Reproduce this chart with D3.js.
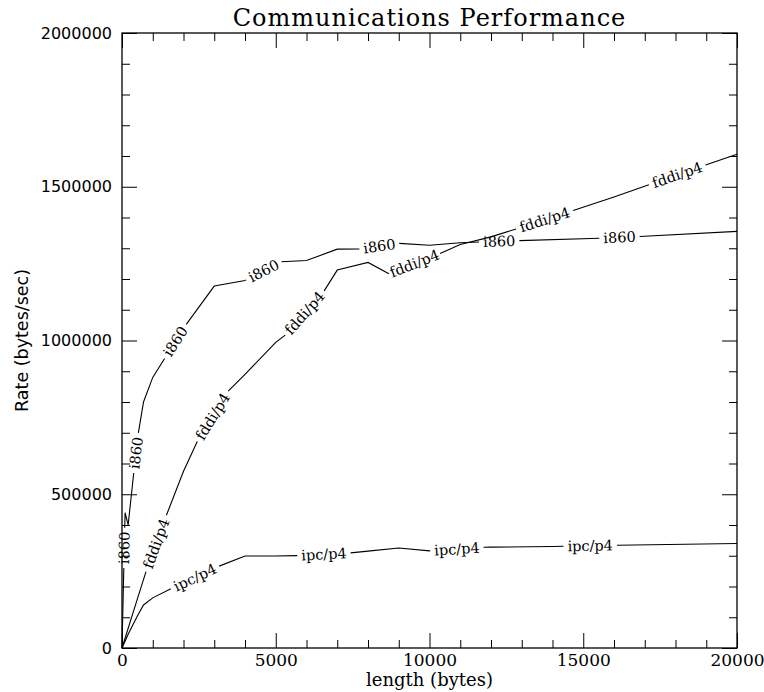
<!DOCTYPE html>
<html><head><meta charset="utf-8">
<script src="https://cdn.jsdelivr.net/npm/d3@7"></script>
<style>
body{margin:0;background:#fff}
svg{display:block}
.lbl{font-family:"DejaVu Serif",serif;font-size:14.5px;fill:#000}
</style>
</head><body>
<svg id="c" width="764" height="692"></svg>
<script>
// ---------- data ----------
const titleText = "Communications Performance";
const xLabelText = "length (bytes)";
const yLabelText = "Rate (bytes/sec)";
const xTickValues = [0, 5000, 10000, 15000, 20000];
const yTickValues = [0, 500000, 1000000, 1500000, 2000000];
const seriesNames = ["i860", "fddi/p4", "ipc/p4"];

const i860Length = [0, 100, 200, 500, 700, 1000, 2000, 3000, 4000, 5000, 6000, 7000, 8000, 9000, 10000, 11000, 12000, 16000, 20000];
const i860Rate   = [0, 440000, 400000, 680000, 800000, 880000, 1040000, 1177000, 1195000, 1255000, 1260000, 1297000, 1298000, 1316000, 1310000, 1318000, 1322000, 1334000, 1355000];

const fddiLength = [0, 500, 1000, 2000, 3000, 4000, 5000, 6000, 7000, 8000, 9000, 10000, 11000, 12000, 14000, 16000, 18000, 20000];
const fddiRate   = [0, 160000, 317000, 575000, 790000, 890000, 994000, 1070000, 1229000, 1254000, 1200000, 1268000, 1312000, 1337000, 1400000, 1467000, 1537000, 1606000];

const ipcLength = [0, 100, 200, 500, 700, 1000, 2000, 3000, 4000, 5000, 6000, 7000, 8000, 9000, 10000, 11000, 12000, 14000, 16000, 20000];
const ipcRate   = [0, 22000, 45000, 104000, 140000, 163000, 213000, 260000, 299000, 299000, 301000, 305000, 315000, 325000, 316000, 326000, 328000, 330000, 334000, 340000];

// ---------- chart ----------
const svg = d3.select("#c");
const L = 122, R = 737, T = 33, B = 648;
const x = d3.scaleLinear().domain([0, 20000]).range([L, R]);
const y = d3.scaleLinear().domain([0, 2000000]).range([B, T]);

const xMinor = d3.range(0, 20001, 1000).filter(v => v % 5000 !== 0);
const yMinor = d3.range(0, 2000001, 100000).filter(v => v % 500000 !== 0);
const MAJ = 15, MIN = 8;

function tickGroup(axis, values, size, tr) {
  const g = svg.append("g").attr("transform", tr)
    .call(axis.tickValues(values).tickSizeInner(size).tickSizeOuter(0).tickFormat(""));
  g.select(".domain").remove();
  g.selectAll("line").attr("stroke", "#000").attr("stroke-width", 1);
}
// inward ticks on all four sides
tickGroup(d3.axisBottom(x), xTickValues, -MAJ, `translate(0,${B})`);
tickGroup(d3.axisBottom(x), xMinor, -MIN, `translate(0,${B})`);
tickGroup(d3.axisTop(x), xTickValues, -MAJ, `translate(0,${T})`);
tickGroup(d3.axisTop(x), xMinor, -MIN, `translate(0,${T})`);
tickGroup(d3.axisLeft(y), yTickValues, -MAJ, `translate(${L},0)`);
tickGroup(d3.axisLeft(y), yMinor, -MIN, `translate(${L},0)`);
tickGroup(d3.axisRight(y), yTickValues, -MAJ, `translate(${R},0)`);
tickGroup(d3.axisRight(y), yMinor, -MIN, `translate(${R},0)`);

// tick labels
const xl = svg.append("g").attr("transform", `translate(0,${B})`)
  .call(d3.axisBottom(x).tickValues(xTickValues).tickSize(0).tickPadding(6).tickFormat(d3.format("d")));
xl.select(".domain").remove();
xl.selectAll("text").attr("font-family", "DejaVu Serif, serif").attr("font-size", 17).attr("fill", "#000");

const yl = svg.append("g").attr("transform", `translate(${L},0)`)
  .call(d3.axisLeft(y).tickValues(yTickValues).tickSize(0).tickPadding(10).tickFormat(d3.format("d")));
yl.select(".domain").remove();
yl.selectAll("text").attr("font-family", "DejaVu Sans, sans-serif").attr("font-size", 16).attr("fill", "#000");

// frame
svg.append("rect").attr("x", L).attr("y", T).attr("width", R - L).attr("height", B - T)
  .attr("fill", "none").attr("stroke", "#000").attr("stroke-width", 1.3);

// titles
svg.append("text").attr("x", (L + R) / 2).attr("y", 26).attr("text-anchor", "middle")
  .attr("font-family", "DejaVu Serif, serif").attr("font-size", 24).attr("letter-spacing", 1)
  .text(titleText);
svg.append("text").attr("x", (L + R) / 2).attr("y", 686).attr("text-anchor", "middle")
  .attr("font-family", "DejaVu Serif, serif").attr("font-size", 18).text(xLabelText);
svg.append("text").attr("transform", `translate(28,${(T + B) / 2}) rotate(-90)`).attr("text-anchor", "middle")
  .attr("font-family", "DejaVu Sans, sans-serif").attr("font-size", 17.5).text(yLabelText);

// series with labels set into the line
const series = [
  { name: seriesNames[0], len: i860Length, rate: i860Rate },
  { name: seriesNames[1], len: fddiLength, rate: fddiRate },
  { name: seriesNames[2], len: ipcLength, rate: ipcRate }
];
const line = d3.line().x(d => x(d[0])).y(d => y(d[1]));
const segLen = 80, pad = 4;

series.forEach(s => {
  const path = svg.append("path").datum(d3.zip(s.len, s.rate)).attr("d", line)
    .attr("fill", "none").attr("stroke", "#000").attr("stroke-width", 1.1);
  const node = path.node();
  const total = node.getTotalLength();
  const tmp = svg.append("text").attr("class", "lbl").text(s.name);
  const w = tmp.node().getComputedTextLength();
  tmp.remove();
  const gap = w + 2 * pad;
  const dashes = [], centers = [];
  let pos = 0;
  while (pos + segLen + gap <= total) {
    dashes.push(segLen, gap);
    centers.push(pos + segLen + gap / 2);
    pos += segLen + gap;
  }
  dashes.push(total - pos + 5, 5);
  path.attr("stroke-dasharray", dashes.join(","));
  centers.forEach(c => {
    const p1 = node.getPointAtLength(c - gap / 2);
    const p2 = node.getPointAtLength(c + gap / 2);
    let a = Math.atan2(p2.y - p1.y, p2.x - p1.x) * 180 / Math.PI;
    if (a > 90) a -= 180;
    if (a < -90) a += 180;
    const mx = (p1.x + p2.x) / 2, my = (p1.y + p2.y) / 2;
    svg.append("text").attr("class", "lbl")
      .attr("transform", `translate(${mx},${my}) rotate(${a})`)
      .attr("text-anchor", "middle").attr("dy", "0.35em").text(s.name);
  });
});
</script>
</body></html>
